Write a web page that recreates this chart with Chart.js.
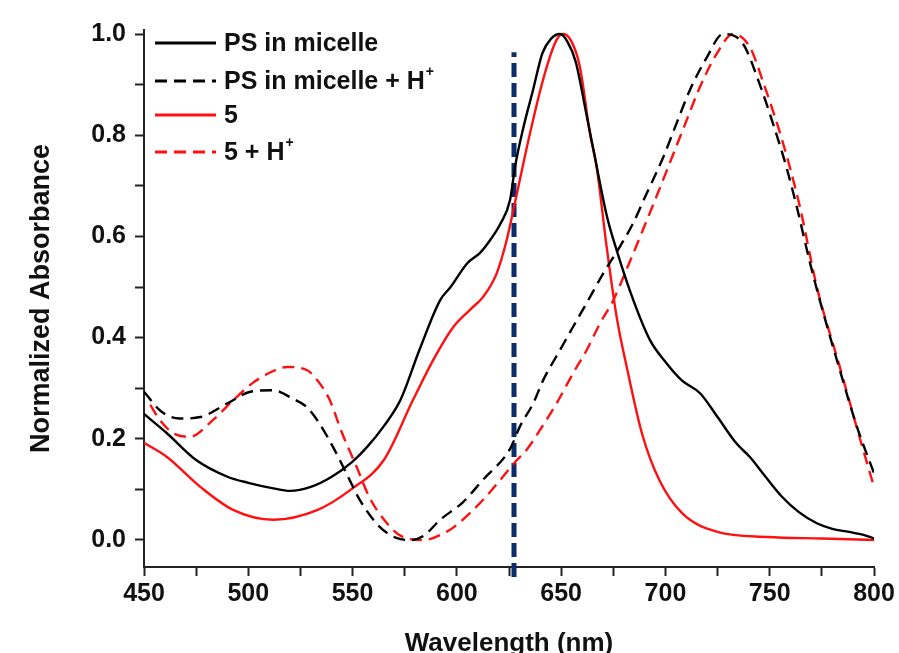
<!DOCTYPE html>
<html lang="en">
<head>
  <meta charset="UTF-8" />
  <title>Normalized Absorbance</title>
  <script src="https://cdn.jsdelivr.net/npm/chart.js"></script>
  <style>
    * { margin: 0; padding: 0; box-sizing: border-box; }
    body { background: #ffffff; width: 899px; height: 653px; overflow: hidden; }
    .wrap { position: relative; width: 899px; height: 653px; }
  </style>
</head>
<body>
  <div class="wrap"><canvas id="absChart" width="899" height="653"></canvas></div>

  <script>
    // series names as in the legend
    const seriesNames = ['PS in micelle', 'PS in micelle + H+', '5', '5 + H+'];

    // PS in micelle (black, solid)
    const psWl = [450, 461, 475, 490, 500, 512, 520, 530, 540, 550, 557, 565, 573, 582, 592, 597, 605, 611, 616, 621, 625.5, 628, 632, 636.5, 641, 645, 649.5, 653, 657, 662, 665.5, 672, 676.6, 684.6, 692.6, 700.6, 708, 716.6, 725, 734, 740.5, 748, 756, 764, 772.6, 780, 788, 795, 800];
    const psAbs = [0.249, 0.211, 0.158, 0.125, 0.113, 0.102, 0.097, 0.105, 0.125, 0.155, 0.184, 0.225, 0.277, 0.375, 0.474, 0.5, 0.547, 0.567, 0.593, 0.626, 0.672, 0.74, 0.817, 0.889, 0.962, 0.99, 1.0, 0.985, 0.945, 0.844, 0.771, 0.639, 0.573, 0.474, 0.395, 0.349, 0.315, 0.29, 0.243, 0.191, 0.164, 0.125, 0.085, 0.055, 0.033, 0.022, 0.016, 0.01, 0.003];

    // PS in micelle + H+ (black, dashed)
    const psHWl = [450, 458, 467, 477, 490, 501, 512, 521, 528, 534, 540.6, 547, 553.5, 563, 571, 578, 584, 592, 603, 612.5, 625.5, 630.2, 636.6, 641.4, 649.4, 655.8, 662.2, 670.2, 678.2, 684.5, 691, 699, 705, 711.7, 720, 727.6, 737, 745, 751.5, 758, 763, 769, 774, 783.6, 791.8, 800];
    const psHAbs = [0.293, 0.255, 0.24, 0.243, 0.27, 0.293, 0.296, 0.28, 0.263, 0.231, 0.184, 0.132, 0.079, 0.026, 0.004, 0.0, 0.008, 0.04, 0.075, 0.119, 0.18, 0.224, 0.27, 0.316, 0.375, 0.422, 0.468, 0.527, 0.58, 0.626, 0.685, 0.757, 0.82, 0.889, 0.955, 1.0, 0.982, 0.903, 0.824, 0.737, 0.658, 0.553, 0.474, 0.336, 0.224, 0.132];

    // 5 (red, solid)
    const c5Wl = [450, 461, 477, 493, 512, 533, 549, 565, 579, 588.7, 598.3, 606.3, 612.7, 619.1, 623.9, 627.1, 633.6, 640, 644.6, 648, 651, 655, 659, 663.8, 667, 671.8, 676.6, 681.4, 689, 697, 708, 725, 749, 775, 800];
    const c5Abs = [0.192, 0.164, 0.105, 0.059, 0.04, 0.059, 0.099, 0.158, 0.277, 0.356, 0.421, 0.455, 0.481, 0.527, 0.593, 0.652, 0.777, 0.889, 0.955, 0.99, 1.0, 0.985, 0.935, 0.804, 0.738, 0.58, 0.441, 0.343, 0.207, 0.119, 0.053, 0.016, 0.006, 0.003, 0.0];

    // 5 + H+ (red, dashed)
    const c5HWl = [453, 458, 464, 472, 483, 493, 502, 510, 518.6, 528, 533, 539, 545, 552, 558, 566.5, 574, 584, 595, 600, 612.5, 628.8, 633.4, 639.8, 647.8, 655.8, 662.2, 668.6, 675, 681.4, 689.4, 695.8, 703.7, 710, 716.5, 724.7, 732.4, 740.5, 747, 756, 764.5, 772.6, 783.6, 793, 800];
    const c5HAbs = [0.267, 0.235, 0.211, 0.204, 0.237, 0.277, 0.31, 0.33, 0.342, 0.336, 0.316, 0.277, 0.211, 0.144, 0.085, 0.033, 0.006, 0.0, 0.016, 0.03, 0.079, 0.158, 0.178, 0.217, 0.27, 0.33, 0.375, 0.428, 0.474, 0.535, 0.615, 0.68, 0.762, 0.828, 0.895, 0.962, 1.0, 0.974, 0.903, 0.79, 0.658, 0.5, 0.342, 0.204, 0.105];

    // vertical marker (navy dashed)
    const markerWl = [627.4, 627.4];
    const markerAbs = [-0.073, 0.964];

    // axis ticks
    const xTicks = [450, 475, 500, 525, 550, 575, 600, 625, 650, 675, 700, 725, 750, 775, 800];
    const xLabels = [450, 500, 550, 600, 650, 700, 750, 800];
    const yTicks = [0, 0.1, 0.2, 0.3, 0.4, 0.5, 0.6, 0.7, 0.8, 0.9, 1.0];
    const yLabels = [0, 0.2, 0.4, 0.6, 0.8, 1.0];

    const pts = (xs, ys) => xs.map((x, i) => ({ x: x, y: ys[i] }));

    const black = '#000000';
    const red = '#ff1010';
    const navy = '#0b2c6a';
    const axisColor = '#222222';
    const fontFam = '"Liberation Sans", Arial, sans-serif';

    const lineDefaults = {
      pointRadius: 0,
      borderWidth: 2.4,
      cubicInterpolationMode: 'monotone',
      fill: false
    };

    // legend drawn inside the plot, top left
    const insideLegend = {
      id: 'insideLegend',
      afterDatasetsDraw(chart) {
        const ctx = chart.ctx;
        const area = chart.chartArea;
        const rowY = [43, 81, 115, 152];
        const x0 = area.left + 11;
        const lineLen = 61;
        ctx.save();
        chart.data.datasets.forEach((ds, i) => {
          if (i >= seriesNames.length) return;
          const y = rowY[i];
          ctx.strokeStyle = ds.borderColor;
          ctx.lineWidth = 3;
          ctx.setLineDash(ds.borderDash || []);
          ctx.beginPath();
          ctx.moveTo(x0, y);
          ctx.lineTo(x0 + lineLen, y);
          ctx.stroke();
          ctx.setLineDash([]);
          ctx.fillStyle = '#111';
          ctx.textBaseline = 'middle';
          ctx.textAlign = 'left';
          ctx.font = 'bold 25px ' + fontFam;
          let label = seriesNames[i];
          let sup = false;
          if (label.endsWith('H+')) { label = label.slice(0, -1); sup = true; }
          const tx = x0 + lineLen + 8;
          ctx.fillText(label, tx, y + 1);
          if (sup) {
            const w = ctx.measureText(label).width;
            ctx.font = 'bold 14px ' + fontFam;
            ctx.fillText('+', tx + w + 1, y - 9);
          }
        });
        ctx.restore();
      }
    };

    new Chart(document.getElementById('absChart'), {
      type: 'line',
      data: {
        datasets: [
          Object.assign({ label: seriesNames[0], data: pts(psWl, psAbs), borderColor: black }, lineDefaults),
          Object.assign({ label: seriesNames[1], data: pts(psHWl, psHAbs), borderColor: black, borderDash: [12, 7] }, lineDefaults),
          Object.assign({ label: seriesNames[2], data: pts(c5Wl, c5Abs), borderColor: red }, lineDefaults),
          Object.assign({ label: seriesNames[3], data: pts(c5HWl, c5HAbs), borderColor: red, borderDash: [12, 7] }, lineDefaults),
          {
            label: 'marker',
            data: pts(markerWl, markerAbs),
            borderColor: navy,
            borderWidth: 5,
            borderDash: [14, 6],
            pointRadius: 0,
            clip: false
          }
        ]
      },
      plugins: [insideLegend],
      options: {
        responsive: false,
        animation: false,
        devicePixelRatio: 1,
        layout: { padding: { top: 30, right: 25, left: 0, bottom: 0 } },
        plugins: {
          legend: { display: false },
          tooltip: { enabled: false }
        },
        scales: {
          x: {
            type: 'linear',
            min: 450,
            max: 800,
            afterBuildTicks: (scale) => { scale.ticks = xTicks.map(v => ({ value: v })); },
            afterFit: (scale) => { scale.height = 86; },
            grid: { drawOnChartArea: false, drawTicks: true, tickLength: 9, tickWidth: 2, tickColor: axisColor },
            border: { display: true, color: axisColor, width: 2 },
            ticks: {
              autoSkip: false,
              maxRotation: 0,
              padding: 3,
              color: '#111',
              font: { family: fontFam, size: 25, weight: 'bold' },
              callback: (v) => xLabels.includes(v) ? String(v) : ''
            },
            title: {
              display: true,
              text: 'Wavelength (nm)',
              color: '#111',
              font: { family: fontFam, size: 26, weight: 'bold' },
              padding: { top: 0, bottom: -6 }
            }
          },
          y: {
            min: -0.0534,
            max: 1.008,
            afterBuildTicks: (scale) => { scale.ticks = yTicks.map(v => ({ value: v })); },
            afterFit: (scale) => { scale.width = 144; },
            grid: { drawOnChartArea: false, drawTicks: true, tickLength: 9, tickWidth: 2, tickColor: axisColor },
            border: { display: true, color: axisColor, width: 2 },
            ticks: {
              autoSkip: false,
              padding: 9,
              color: '#111',
              font: { family: fontFam, size: 25, weight: 'bold' },
              callback: (v) => yLabels.some(l => Math.abs(l - v) < 1e-6) ? v.toFixed(1) : ''
            },
            title: {
              display: true,
              text: 'Normalized Absorbance',
              color: '#111',
              font: { family: fontFam, size: 27, weight: 'bold' },
              padding: { top: 25, bottom: 0 }
            }
          }
        }
      }
    });
  </script>
</body>
</html>
